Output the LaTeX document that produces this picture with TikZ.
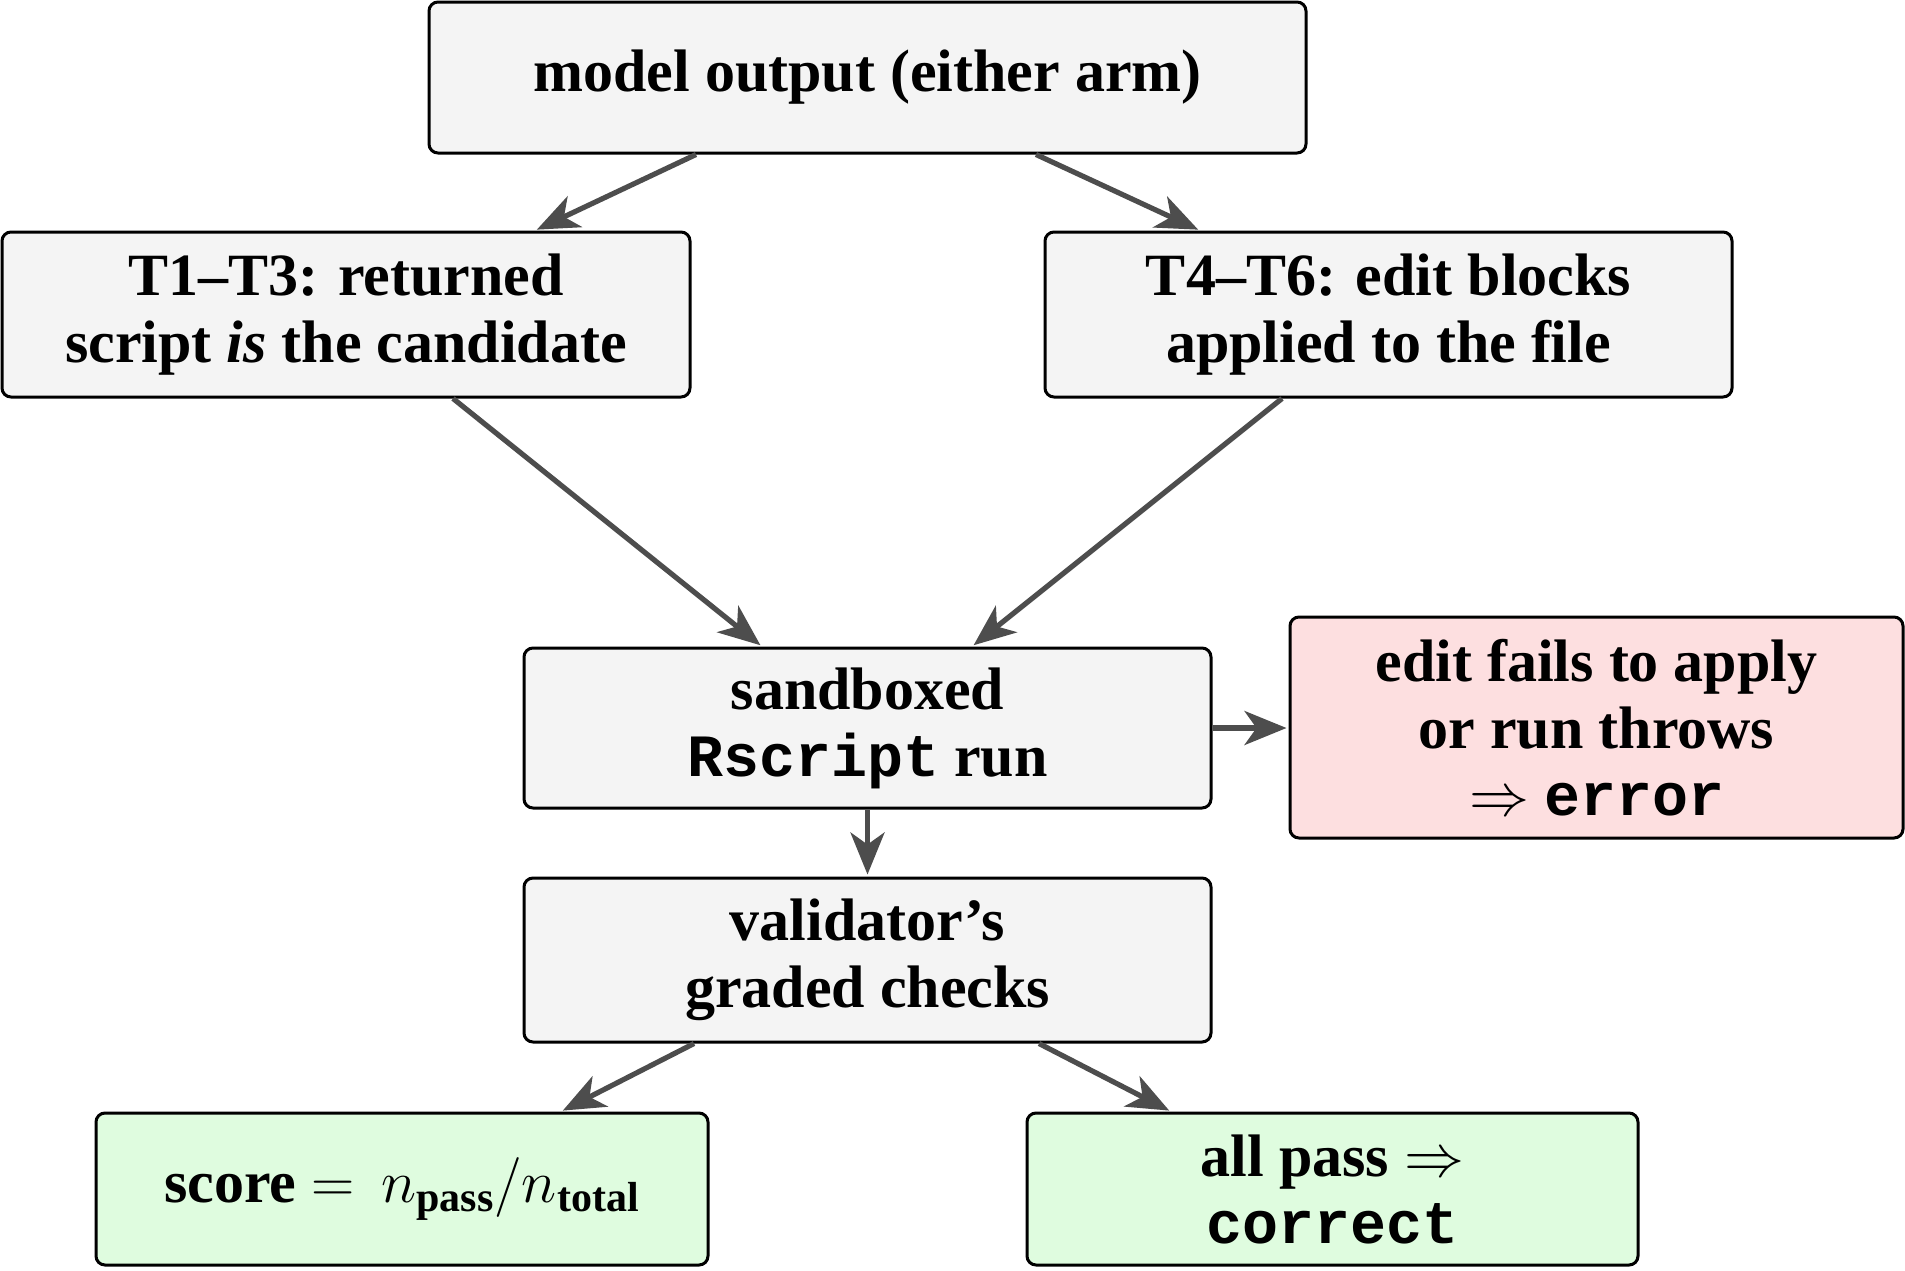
\documentclass[tikz,border=0pt]{standalone}
\usepackage{fix-cm}
\usepackage{amsmath}
\usepackage{fontspec}
\setmainfont{Liberation Serif}
\setmonofont{Liberation Mono}
\usetikzlibrary{arrows.meta}
\definecolor{boxgray}{HTML}{F4F4F4}
\definecolor{boxred}{HTML}{FDDFE0}
\definecolor{boxgreen}{HTML}{DFFCDF}
\definecolor{arrgray}{HTML}{4D4D4D}
\begin{document}
\begin{tikzpicture}[x=1pt,y=1pt,
 box/.style={draw=black, line width=1.5pt, rounded corners=4.5pt, fill=boxgray, align=center, inner sep=0pt, font=\fontsize{30}{33.5}\selectfont\bfseries},
 redbox/.style={box, fill=boxred},
 greenbox/.style={box, fill=boxgreen},
 conn/.style={draw=arrgray, line width=2.6pt, -{Stealth[length=21pt,width=17pt,inset=6pt]}, shorten >=1pt}]
\useasboundingbox (0,0) rectangle (952.5,-635);
\node[box, minimum width=438.5pt, minimum height=75.5pt] (top) at (433.75,-38.75) {model output (either arm)};
\node[box, minimum width=344pt, minimum height=82.5pt] (t1) at (173,-157.25) {T1--T3: returned\\script \textit{is} the candidate};
\node[box, minimum width=343.5pt, minimum height=82.5pt] (t4) at (694.25,-157.25) {T4--T6: edit blocks\\applied to the file};
\node[box, minimum width=343.5pt, minimum height=80pt] (sb) at (433.75,-364) {sandboxed\\\texttt{Rscript} run};
\node[redbox, minimum width=306.5pt, minimum height=110.5pt] (err) at (798.25,-363.75) {edit fails to apply\\or run throws\\$\Rightarrow$ \texttt{error}};
\node[box, minimum width=343.5pt, minimum height=82pt] (val) at (433.75,-480) {validator's\\graded checks};
\node[greenbox, minimum width=306pt, minimum height=76pt] (score) at (201,-594.5) {score $=\,n_{\text{pass}}/n_{\text{total}}$};
\node[greenbox, minimum width=305.5pt, minimum height=76pt] (ok) at (666.25,-594.5) {all pass $\Rightarrow$\\\texttt{correct}};
\draw[conn] ([xshift=-85.75pt]top.south) -- ([xshift=94.5pt]t1.north);
\draw[conn] ([xshift=84.25pt]top.south) -- ([xshift=-94.25pt]t4.north);
\draw[conn] ([xshift=53.5pt]t1.south) -- ([xshift=-52.75pt]sb.north);
\draw[conn] ([xshift=-53.25pt]t4.south) -- ([xshift=52.25pt]sb.north);
\draw[conn] (sb.east) -- (sb.east -| err.west);
\draw[conn] (sb.south) -- (val.north);
\draw[conn] ([xshift=-86.75pt]val.south) -- ([xshift=79.5pt]score.north);
\draw[conn] ([xshift=85.75pt]val.south) -- ([xshift=-80.75pt]ok.north);
\end{tikzpicture}
\end{document}
